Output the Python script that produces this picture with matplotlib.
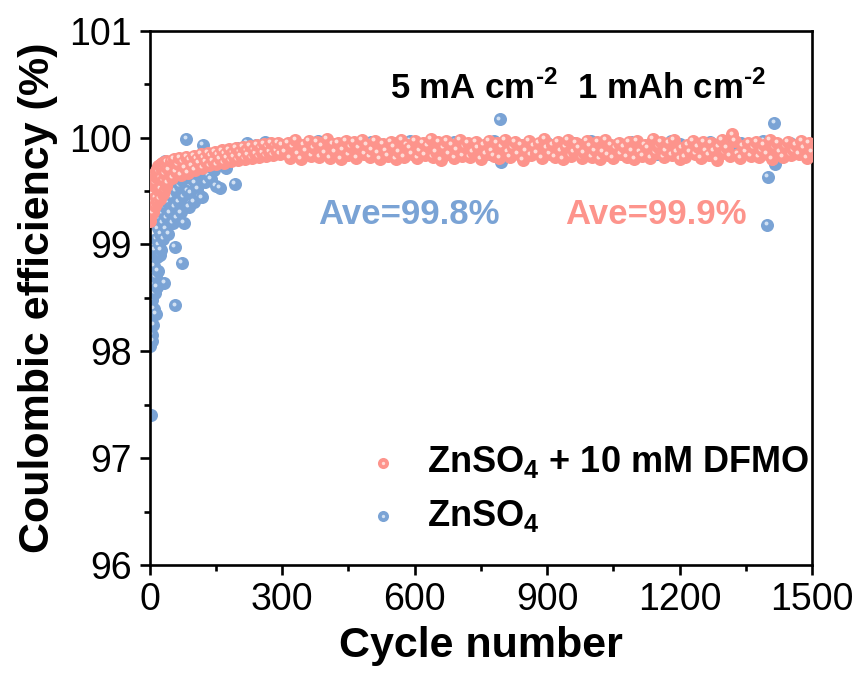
import numpy as np
import matplotlib; matplotlib.use("Agg")
import matplotlib.pyplot as plt
from matplotlib.transforms import offset_copy
from matplotlib.legend_handler import HandlerTuple

# ---- data: coulombic efficiency (%) vs cycle number ----
# ZnSO4 + 10 mM DFMO: cycles 1-40 every cycle, 43-299 every 4th, 306-1500 every 6th
dfmo_ce_a = [99.22, 99.38, 99.28, 99.48, 99.33, 99.56, 99.30, 99.62, 99.40, 99.66,
             99.36, 99.58, 99.69, 99.44, 99.63, 99.71, 99.40, 99.66, 99.73, 99.50,
             99.68, 99.74, 99.43, 99.62, 99.75, 99.52, 99.70, 99.76, 99.47, 99.72,
             99.60, 99.77, 99.50, 99.74, 99.66, 99.78, 99.55, 99.72, 99.77, 99.58]
dfmo_ce_b = [99.70, 99.78, 99.62, 99.80, 99.68, 99.75, 99.81, 99.65, 99.77, 99.72,
             99.82, 99.67, 99.79, 99.74, 99.83, 99.70, 99.80, 99.76, 99.85, 99.72,
             99.81, 99.77, 99.86, 99.74, 99.83, 99.78, 99.87, 99.75, 99.84, 99.80,
             99.88, 99.76, 99.85, 99.81, 99.89, 99.78, 99.86, 99.82, 99.90, 99.79,
             99.87, 99.83, 99.91, 99.80, 99.88, 99.84, 99.92, 99.81, 99.89, 99.85,
             99.93, 99.82, 99.90, 99.86, 99.94, 99.83, 99.91, 99.87, 99.95, 99.84,
             99.92, 99.88, 99.95, 99.85, 99.93]
dfmo_ce_c = [99.87, 99.95, 99.81, 99.91, 99.98, 99.85, 99.80, 99.93, 99.88, 99.97,
             99.83, 99.90, 99.96, 99.82, 99.92, 99.86, 99.99, 99.81, 99.94, 99.87,
             99.95, 99.80, 99.89, 99.97, 99.84, 99.91, 99.96, 99.81, 99.90, 99.98,
             99.85, 99.93, 99.82, 99.89, 99.97, 99.86, 99.80, 99.94, 99.88, 99.83,
             99.96, 99.91, 99.80, 99.87, 99.98, 99.82, 99.93, 99.90, 99.85, 99.97,
             99.81, 99.88, 99.95, 99.84, 99.92, 99.99, 99.82, 99.87, 99.96, 99.79,
             99.90, 99.97, 99.85, 99.93, 99.81, 99.89, 99.98, 99.83, 99.91, 99.95,
             99.82, 99.87, 99.96, 99.90, 99.80, 99.93, 99.85, 99.97, 99.88, 99.83,
             99.95, 99.81, 99.91, 99.98, 99.87, 99.82, 99.90, 99.96, 99.85, 99.93,
             99.79, 99.88, 99.97, 99.84, 99.92, 99.86, 99.95, 99.81, 99.99, 99.90,
             99.85, 99.93, 99.82, 99.96, 99.88, 99.80, 99.91, 99.98, 99.83, 99.87,
             99.95, 99.90, 99.81, 99.86, 99.97, 99.92, 99.82, 99.88, 99.96, 99.80,
             99.87, 99.98, 99.84, 99.93, 99.81, 99.90, 99.95, 99.85, 99.91, 99.82,
             99.96, 99.88, 99.80, 99.97, 99.87, 99.83, 99.93, 99.90, 99.81, 99.99,
             99.86, 99.91, 99.96, 99.82, 99.88, 99.95, 99.84, 99.98, 99.87, 99.80,
             99.90, 99.82, 99.93, 99.87, 99.97, 99.85, 99.91, 99.81, 99.96, 99.88,
             99.84, 99.95, 99.88, 99.79, 99.91, 99.98, 99.86, 99.90, 99.83, 100.03,
             99.97, 99.85, 99.81, 99.92, 99.87, 99.95, 99.83, 99.90, 99.96, 99.82,
             99.88, 99.93, 99.85, 99.98, 99.80, 99.90, 99.95, 99.87, 99.82, 99.91,
             99.96, 99.84, 99.88, 99.93, 99.85, 99.97, 99.90, 99.81, 99.95, 99.87]

# bare ZnSO4: scattered first ~200 cycles, then every 10th cycle, plus outliers
znso4_cyc_early = [1, 2, 3, 4, 5, 6, 7, 8, 9, 10, 11, 12, 13, 14, 15, 16, 17, 18, 19, 20,
                   21, 22, 23, 24, 25, 26, 27, 28, 29, 30,
                   31, 32, 33, 34, 35, 36, 37, 38, 39, 40,
                   42, 44, 46, 48, 50, 52, 54, 56, 57, 58,
                   60, 62, 64, 66, 68, 70, 72, 74, 76, 78,
                   80, 83, 85, 88, 90, 93, 96, 99, 102, 105,
                   108, 111, 114, 118, 120, 123, 126, 130, 134, 138,
                   142, 146, 150, 155, 159, 163, 168, 172, 177, 182,
                   187, 193, 197, 202]
znso4_ce_early = [98.05, 98.30, 97.40, 98.15, 98.48, 98.10, 98.62, 98.25, 98.80, 98.40,
                  98.55, 98.95, 98.35, 98.70, 99.05, 98.60, 98.88, 99.15, 98.75, 99.00,
                  99.25, 98.90, 99.40, 99.10, 99.55, 98.95, 99.30, 99.75, 99.20, 99.45,
                  99.05, 99.60, 98.64, 99.35, 99.78, 99.15, 99.50, 99.25, 99.65, 99.40,
                  99.10, 99.55, 99.30, 99.72, 99.45, 99.20, 99.60, 99.35, 98.98, 98.43,
                  99.50, 99.25, 99.65, 99.40, 99.55, 99.30, 98.83, 99.60, 99.45, 99.20,
                  99.68, 99.99, 99.50, 99.35, 99.62, 99.48, 99.70, 99.40, 99.58, 99.75,
                  99.52, 99.66, 99.45, 99.44, 99.93, 99.70, 99.58, 99.78, 99.64, 99.61,
                  99.80, 99.70, 99.55, 99.82, 99.53, 99.76, 99.85, 99.72, 99.88, 99.80,
                  99.86, 99.57, 99.90, 99.84]
znso4_ce_late = [99.90, 99.95, 99.87, 99.93, 99.89, 99.96, 99.85, 99.91, 99.94, 99.88,
                 99.92, 99.86, 99.95, 99.90, 99.84, 99.94, 99.91, 99.97, 99.87, 99.92,
                 99.93, 99.89, 99.85, 99.95, 99.91, 99.88, 99.94, 99.92, 99.86, 99.96,
                 99.90, 99.94, 99.87, 99.92, 99.95, 99.84, 99.93, 99.89, 99.97, 99.91,
                 99.86, 99.93, 99.95, 99.88, 99.92, 99.94, 99.90, 99.85, 99.96, 99.91,
                 99.94, 99.87, 99.92, 99.95, 99.89, 99.93, 99.85, 99.97, 99.91, 99.88,
                 99.94, 99.90, 99.86, 99.93, 99.92, 99.96, 99.88, 99.93, 99.89, 99.95,
                 99.91, 99.87, 99.94, 99.92, 99.85, 99.95, 99.90, 99.93, 99.88, 99.97,
                 99.92, 99.89, 99.95, 99.86, 99.92, 99.94, 99.91, 99.87, 99.96, 99.90,
                 99.93, 99.88, 99.92, 99.95, 99.85, 99.93, 99.90, 99.97, 99.89, 99.94,
                 99.87, 99.92, 99.95, 99.90, 99.94, 99.86, 99.96, 99.91, 99.93, 99.88,
                 99.94, 99.89, 99.92, 99.95, 99.87, 99.93, 99.90, 99.85, 99.97, 99.92,
                 99.89, 99.94, 99.91, 99.86, 99.95, 99.93, 99.88, 99.94, 99.90, 99.87]
znso4_cyc_out = [794, 796, 1399, 1401, 1415, 1417]
znso4_ce_out = [100.17, 99.77, 99.18, 99.63, 100.14, 99.75]

assert len(znso4_cyc_early) == len(znso4_ce_early)

dfmo_x = np.concatenate([1 + np.arange(len(dfmo_ce_a)),
                         43 + 4 * np.arange(len(dfmo_ce_b)),
                         306 + 6 * np.arange(len(dfmo_ce_c))])
dfmo_y = np.array(dfmo_ce_a + dfmo_ce_b + dfmo_ce_c)
zn_x = np.concatenate([znso4_cyc_early, 210 + 10 * np.arange(len(znso4_ce_late)), znso4_cyc_out])
zn_y = np.array(znso4_ce_early + znso4_ce_late + znso4_ce_out)

BLUE, BLUE_HL = "#7aa3d5", "#dce8f7"
PINK, PINK_HL = "#fd948c", "#ffe3df"

plt.rcParams["font.family"] = ["Liberation Sans", "DejaVu Sans"]
plt.rcParams["mathtext.fontset"] = "custom"
plt.rcParams["mathtext.rm"] = "Liberation Sans"
plt.rcParams["mathtext.bf"] = "Liberation Sans:bold"

fig = plt.figure(figsize=(8.61, 6.84), dpi=100)
ax = fig.add_axes([0.174, 0.174, 0.769, 0.781])

# "ball" markers: a filled disc plus a small light spot up and to the left.
# Drawn point by point so later balls cover earlier highlights.
hl = offset_copy(ax.transData, fig=fig, x=-1.3, y=1.3, units="points")
S_BASE, S_HL = 88, 8


def balls(xs, ys, c, c_hl, z):
    for xi, yi in zip(xs, ys):
        b = ax.scatter([xi], [yi], s=S_BASE, color=c, lw=0, zorder=z)
        h = ax.scatter([xi], [yi], s=S_HL, color=c_hl, lw=0, alpha=0.9, transform=hl, zorder=z)
    return b, h


zb, zh = balls(zn_x, zn_y, BLUE, BLUE_HL, 2)
db, dh = balls(dfmo_x, dfmo_y, PINK, PINK_HL, 3)

ax.set_xlim(0, 1500)
ax.set_ylim(96, 101)
ax.set_xticks(np.arange(0, 1501, 300))
ax.set_xticks(np.arange(150, 1500, 300), minor=True)
ax.set_yticks(np.arange(96, 101.1, 1))
ax.set_yticks(np.arange(96.5, 101, 1), minor=True)
ax.tick_params(which="both", direction="out", width=1.9, top=False, right=False)
ax.tick_params(which="major", length=7, labelsize=27)
ax.tick_params(which="minor", length=4)
ax.tick_params(axis="y", pad=6)
ax.tick_params(axis="x", pad=5)
for sp in ax.spines.values():
    sp.set_linewidth(1.9)

ax.set_xlabel("Cycle number", fontsize=31, fontweight="bold", labelpad=6)
ax.set_ylabel("Coulombic efficiency (%)", fontsize=31, fontweight="bold", labelpad=8)

ax.text(545, 100.36, "5 mA cm$^{\\mathbf{\u2010 2}}$  1 mAh cm$^{\\mathbf{\u2010 2}}$",
        fontsize=25, fontweight="bold", ha="left", va="baseline")
ax.text(381, 99.19, "Ave=99.8%", color=BLUE, fontsize=25, fontweight="bold", va="baseline")
ax.text(941, 99.19, "Ave=99.9%", color=PINK, fontsize=25, fontweight="bold", va="baseline")

leg = ax.legend([(db, dh), (zb, zh)],
                [r"ZnSO$_\mathbf{4}$ + 10 mM DFMO", r"ZnSO$_\mathbf{4}$"],
                handler_map={tuple: HandlerTuple(ndivide=1, pad=0)},
                loc="upper left", bbox_to_anchor=(0.282, 0.287), frameon=False,
                prop={"size": 26, "weight": "bold"}, markerscale=0.85,
                handlelength=0.8, handletextpad=0.8, labelspacing=0.48, scatterpoints=1,
                borderpad=0.4)

fig.savefig("out.png", dpi=100)
